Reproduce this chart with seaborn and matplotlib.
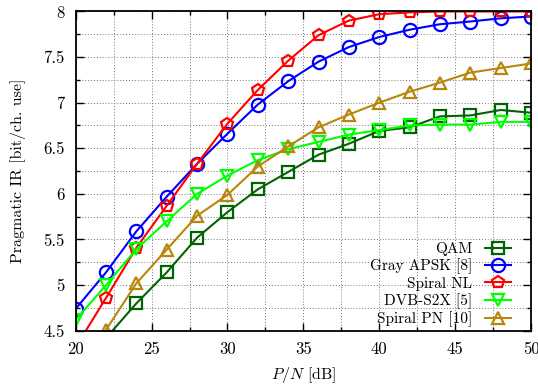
import matplotlib
matplotlib.use("Agg")
import matplotlib.pyplot as plt
import seaborn as sns
import numpy as np
from matplotlib.ticker import MultipleLocator

snr = [20, 22, 24, 26, 28, 30, 32, 34, 36, 38, 40, 42, 44, 46, 48, 50]

qam = [4.10, 4.42, 4.80, 5.14, 5.52, 5.80, 6.05, 6.24, 6.43, 6.55, 6.69, 6.73, 6.85, 6.86, 6.92, 6.89]
gray_apsk = [4.74, 5.14, 5.59, 5.97, 6.33, 6.66, 6.98, 7.235, 7.45, 7.61, 7.72, 7.80, 7.86, 7.89, 7.925, 7.945]
spiral_nl = [4.32, 4.86, 5.41, 5.87, 6.33, 6.77, 7.14, 7.46, 7.74, 7.90, 7.97, 7.99, 8.0, 8.0, 8.0, 8.0]
dvb_s2x = [4.62, 5.00, 5.395, 5.70, 6.00, 6.20, 6.37, 6.49, 6.57, 6.65, 6.70, 6.75, 6.76, 6.76, 6.79, 6.79]
spiral_pn = [4.00, 4.51, 5.02, 5.39, 5.76, 5.99, 6.30, 6.52, 6.73, 6.87, 7.00, 7.12, 7.22, 7.33, 7.38, 7.43]

labels = ["QAM", "Gray APSK [8]", "Spiral NL", "DVB-S2X [5]", "Spiral PN [10]"]
colors = ["#006400", "#0000ff", "#ff0000", "#00ff00", "#b8860b"]
markers = ["s", "o", "p", "v", "^"]
msizes = [8, 9.5, 9, 9, 9]

plt.rcParams["font.family"] = ["cmr10", "DejaVu Serif"]
plt.rcParams["mathtext.fontset"] = "cm"
plt.rcParams["axes.unicode_minus"] = False
plt.rcParams["axes.formatter.use_mathtext"] = True

fig = plt.figure(figsize=(5.38, 3.88), dpi=100)
ax = fig.add_axes([0.1407, 0.1477, 0.987 - 0.1407, 0.9704 - 0.1477])

series = [qam, gray_apsk, spiral_nl, dvb_s2x, spiral_pn]
for vals, lab, col, mk, ms in zip(series, labels, colors, markers, msizes):
    sns.lineplot(x=snr, y=vals, ax=ax, color=col, label=lab, marker=mk,
                 markersize=ms, markerfacecolor="none", markeredgecolor=col,
                 markeredgewidth=1.6, linewidth=1.5)

ax.set_xlim(20, 50)
ax.set_ylim(4.5, 8)
ax.xaxis.set_minor_locator(MultipleLocator(2.5))
ax.yaxis.set_minor_locator(MultipleLocator(0.25))
ax.set_yticks([4.5, 5, 5.5, 6, 6.5, 7, 7.5, 8])
ax.set_yticklabels(["4.5", "5", "5.5", "6", "6.5", "7", "7.5", "8"])
ax.set_xticks([20, 25, 30, 35, 40, 45, 50])
ax.set_xticklabels(["20", "25", "30", "35", "40", "45", "50"])

ax.grid(True, which="both", linestyle=(0, (1, 2)), color="#777777", linewidth=0.7)
ax.set_axisbelow(True)
ax.tick_params(which="both", direction="in", top=True, right=True, labelsize=12)
ax.tick_params(axis="x", pad=8)
ax.tick_params(axis="y", pad=8)
ax.tick_params(which="major", length=6, width=1)
ax.tick_params(which="minor", length=3, width=1)
for s in ax.spines.values():
    s.set_linewidth(1.3)

ax.set_xlabel(r"$P/N$ [dB]", fontsize=11.5, labelpad=6)
ax.set_ylabel("Pragmatic IR [bit/ch. use]", fontsize=11.5, labelpad=12)

leg = ax.legend(loc="lower right", bbox_to_anchor=(0.955, 0.012), frameon=False,
                markerfirst=False, fontsize=11, handlelength=1.7, handletextpad=0.8,
                labelspacing=0.16, borderpad=0, borderaxespad=0)
for vp in leg._legend_box._children[-1]._children:
    vp.align = "right"

fig.savefig("out.png", dpi=100)
